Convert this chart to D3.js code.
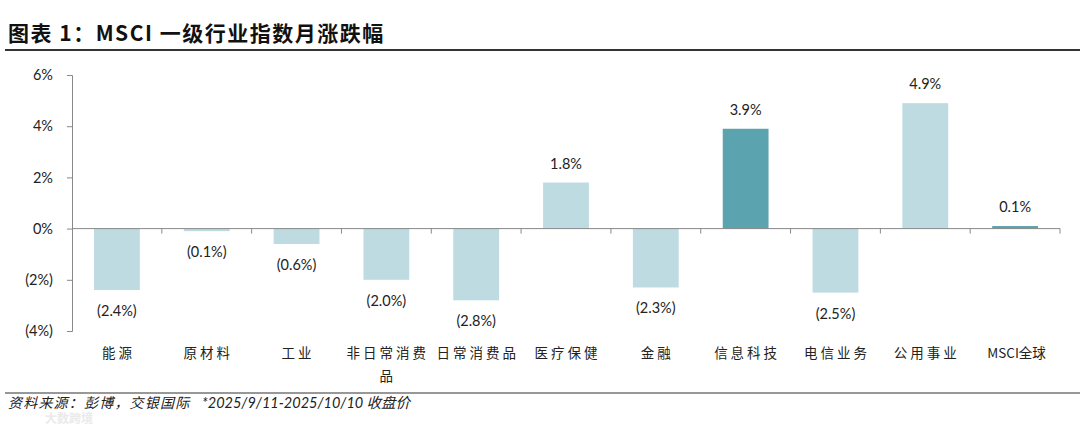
<!DOCTYPE html>
<html><head><meta charset="utf-8">
<script src="https://cdn.jsdelivr.net/npm/d3@7/dist/d3.min.js"></script>
<style>
body{margin:0;background:#fff;}
svg{display:block;}
</style></head>
<body>
<svg id="chart" width="1080" height="427"></svg>
<script>
const categories = ["能源","原材料","工业","非日常消费品","日常消费品","医疗保健","金融","信息科技","电信业务","公用事业","MSCI全球"];
const values = [-2.4,-0.1,-0.6,-2.0,-2.8,1.8,-2.3,3.9,-2.5,4.9,0.1];
const highlight = ["信息科技","MSCI全球"];
const yTicks = [-4,-2,0,2,4,6];
const title = "图表 1：MSCI 一级行业指数月涨跌幅";
const source = "资料来源：彭博，交银国际";
const note = "*2025/9/11-2025/10/10 收盘价";

const svg = d3.select("#chart");
const cjk = "'Noto Sans CJK SC', sans-serif";
const latin = "Lato, 'Open Sans', 'Noto Sans CJK SC', sans-serif";

// title
svg.append("text").attr("x",8).attr("y",41)
  .attr("font-family","'Noto Sans CJK SC', sans-serif").attr("font-weight","bold")
  .attr("font-size",21).attr("letter-spacing",1.5).attr("fill","#111").text(title);
svg.append("line").attr("x1",5).attr("x2",1080).attr("y1",50).attr("y2",50)
  .attr("stroke","#333").attr("stroke-width",2);

const x = d3.scaleBand().domain(categories).range([72,1060]).paddingInner(0.49).paddingOuter(0.245);
const y = d3.scaleLinear().domain([-4,6]).range([331,75]);

const fmt = v => v < 0 ? "(" + Math.abs(v).toFixed(1) + "%)" : v.toFixed(1) + "%";
const fmtTick = v => v < 0 ? "(" + Math.abs(v) + "%)" : v + "%";

// y axis
const yAxis = d3.axisLeft(y).tickValues(yTicks).tickFormat(fmtTick).tickSize(5).tickPadding(14);
const gy = svg.append("g").attr("transform","translate(72,0)").call(yAxis);
gy.select(".domain").attr("stroke","#888");
gy.selectAll(".tick line").attr("stroke","#888");
gy.selectAll(".tick text").attr("font-family",latin).attr("font-size",14.5).attr("fill","#222");

// bars
svg.append("g").selectAll("rect").data(categories).join("rect")
  .attr("x", d => x(d))
  .attr("width", x.bandwidth())
  .attr("y", (d,i) => y(Math.max(0, values[i])))
  .attr("height", (d,i) => Math.abs(y(values[i]) - y(0)))
  .attr("fill", d => highlight.includes(d) ? "#5ba3ae" : "#bddbe0");

// x axis at zero
const xAxis = d3.axisBottom(x).tickSize(0).tickFormat("");
const gx = svg.append("g").attr("transform",`translate(0,${y(0)})`).call(xAxis);
gx.select(".domain").attr("stroke","#888").attr("d","M72,0H1060");
const step = x.step();
const bounds = d3.range(categories.length + 1).map(i => 72 + i * step);
gx.selectAll(".bnd").data(bounds.slice(1)).join("line")
  .attr("x1", d => d).attr("x2", d => d).attr("y1",0).attr("y2",5)
  .attr("stroke","#888");

// value labels
svg.append("g").selectAll("text").data(categories).join("text")
  .attr("x", d => x(d) + x.bandwidth()/2)
  .attr("y", (d,i) => values[i] >= 0 ? y(values[i]) - 14 : y(values[i]) + 26)
  .attr("text-anchor","middle").attr("font-family",latin).attr("font-size",14.5).attr("fill","#222")
  .text((d,i) => fmt(values[i]));

// category labels
const cl = svg.append("g");
categories.forEach(c => {
  const chars = Array.from(c);
  const lines = [];
  if (/^[A-Za-z]/.test(c)) lines.push(c);
  else for (let i = 0; i < chars.length; i += 5) lines.push(chars.slice(i, i+5).join(""));
  lines.forEach((ln, j) => {
    cl.append("text").attr("x", x(c) + x.bandwidth()/2 + 1.5).attr("y", 358 + j*23)
      .attr("text-anchor","middle").attr("font-family",cjk).attr("font-size",13.5)
      .attr("letter-spacing", /^[A-Za-z]/.test(c) ? 0 : 3)
      .attr("fill","#222").text(ln);
  });
});

// footer
svg.append("line").attr("x1",5).attr("x2",1080).attr("y1",393).attr("y2",393)
  .attr("stroke","#333").attr("stroke-width",1.2);
svg.append("text").attr("x",8).attr("y",408).attr("font-family",cjk).attr("font-size",14)
  .attr("letter-spacing",1.2).attr("font-style","italic").attr("fill","#222").text(source);
svg.append("text").attr("x",202).attr("y",408).attr("font-family",latin).attr("font-size",14.5)
  .attr("font-style","italic").attr("fill","#222").text(note);
// watermark
svg.append("text").attr("x",45).attr("y",423).attr("font-family",cjk).attr("font-size",12)
  .attr("font-weight","bold").attr("fill","#e6e6e6").attr("opacity",0.8).text("大数跨境");
</script>
</body></html>
